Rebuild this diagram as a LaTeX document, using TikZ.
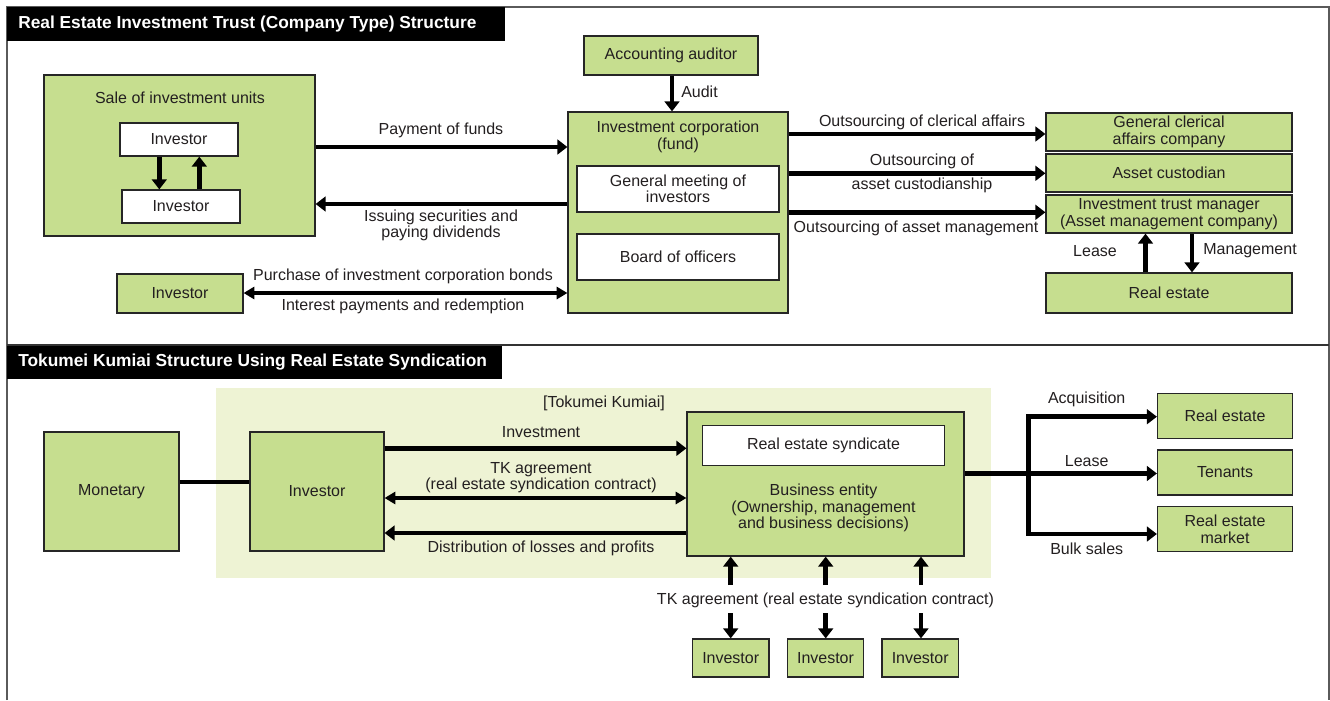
\documentclass[tikz,border=0pt]{standalone}
\usepackage{fontspec}
\setmainfont{Liberation Sans}
\usetikzlibrary{arrows.meta}
\definecolor{boxgreen}{HTML}{C6DE8F}
\definecolor{areagreen}{HTML}{EEF3D4}
\definecolor{txt}{HTML}{231F20}
\definecolor{framegray}{HTML}{5A5A5A}
\begin{document}
\begin{tikzpicture}[x=0.75pt,y=-0.75pt,
  font=\fontsize{12}{12.4}\selectfont, text=txt,
  sz/.style 2 args={minimum width={#1*0.75pt},minimum height={#2*0.75pt}},
  gbox/.style={draw=black!85, line width=0.9pt, fill=boxgreen, inner sep=0pt, align=center},
  wbox/.style={draw=black!85, line width=0.9pt, fill=white, inner sep=0pt, align=center},
  arr/.style={line width=3.4pt, -{Triangle[width=11pt,length=7.5pt]}},
  darr/.style={line width=3.2pt, {Triangle[width=9pt,length=8pt]}-{Triangle[width=9pt,length=8pt]}},
  thk/.style={line width=3.4pt},
  lbl/.style={inner sep=0pt, align=center},
  titlebar/.style={fill=black, draw=none},
  titletext/.style={text=white, font=\fontsize{13}{15}\selectfont\bfseries, inner sep=0pt, anchor=west},
  ]
\useasboundingbox (0,0) rectangle (1330,700);
\fill[white] (0,0) rectangle (1330,700);

% frame
\draw[framegray, line width=1.2pt] (7,700) -- (7,7) -- (1329,7) -- (1329,700);
\draw[black!80, line width=1pt] (7,345) -- (1329,345);

% ===== Top panel =====
\fill[titlebar] (7,7) rectangle (505,40.5);
\node[titletext] (t1) at (18,24) {Real Estate Investment Trust (Company Type) Structure};

\node[gbox, sz={271}{161}] (sale) at (179.5,155.5) {};
\node[lbl] (saleT) at (180,98) {Sale of investment units};
\node[wbox, sz={118}{33}] (inv1) at (179,139.5) {Investor};
\node[wbox, sz={118}{33}] (inv2) at (181,206.5) {Investor};
\draw[arr] (inv1.south -| 159.3,0) -- (inv2.north -| 159.3,0);
\draw[arr] (inv2.north -| 199.3,0) -- (inv1.south -| 199.3,0);

\node[gbox, sz={174}{39}] (auditor) at (671,55.5) {Accounting auditor};
\node[gbox, sz={220}{201}] (corp) at (678,212.5) {};
\node[lbl] (corpT) at (678,137) {Investment corporation\\(fund)};
\node[wbox, sz={202}{46}] (gm) at (678,189) {General meeting of\\investors};
\node[wbox, sz={202}{46}] (board) at (678,257) {Board of officers};
\draw[arr] (auditor.south -| 672,0) -- (corp.north -| 672,0);
\node[lbl, anchor=west] (auditL) at (681,92) {Audit};

\draw[arr] (sale.east |- 0,147) -- (corp.west |- 0,147);
\node[lbl] (payL) at (441,130) {Payment of funds};
\draw[arr] (corp.west |- 0,204) -- (sale.east |- 0,204);
\node[lbl] (issL) at (441,225.5) {Issuing securities and\\paying dividends};

\node[gbox, sz={126}{39}] (invB) at (180,293.5) {Investor};
\draw[darr] (invB.east |- 0,293) -- (corp.west |- 0,293);
\node[lbl] (bondL) at (403,276) {Purchase of investment corporation bonds};
\node[lbl] (intL) at (403,306) {Interest payments and redemption};

\node[gbox, sz={246}{38}] (clerical) at (1169,132) {General clerical\\affairs company};
\node[gbox, sz={246}{38}] (custodian) at (1169,173) {Asset custodian};
\node[gbox, sz={246}{38}] (manager) at (1169,214) {Investment trust manager\\(Asset management company)};
\node[gbox, sz={246}{40}] (realT) at (1169,293) {Real estate};

\draw[arr] (corp.east |- 0,134) -- (clerical.west |- 0,134);
\node[lbl] (clerL) at (922,122) {Outsourcing of clerical affairs};
\draw[arr] (corp.east |- 0,173.3) -- (custodian.west |- 0,173.3);
\node[lbl] (custL1) at (922,161) {Outsourcing of};
\node[lbl] (custL2) at (922,185) {asset custodianship};
\draw[arr] (corp.east |- 0,212.3) -- (manager.west |- 0,212.3);
\node[lbl] (mgmtL) at (916,228) {Outsourcing of asset management};

\draw[arr] (realT.north -| 1145.5,0) -- (manager.south -| 1145.5,0);
\node[lbl] (leaseL) at (1095,251) {Lease};
\draw[arr] (manager.south -| 1192,0) -- (realT.north -| 1192,0);
\node[lbl] (manL) at (1250,251) {Management};

% ===== Bottom panel =====
\fill[titlebar] (7,345.5) rectangle (501.5,379);
\node[titletext] (t2) at (18,362) {Tokumei Kumiai Structure Using Real Estate Syndication};

\fill[areagreen] (216,388) rectangle (991,578);
\node[lbl] (tkL) at (604,403) {[Tokumei Kumiai]};

\node[gbox, sz={135}{119}] (monetary) at (111.5,491.5) {Monetary};
\node[gbox, sz={134}{119}] (invL) at (317,491.5) {Investor};
\draw[thk] (monetary.east |- 0,482) -- (invL.west |- 0,482);

\node[gbox, sz={277}{144}] (biz) at (825.5,484) {};
\node[wbox, sz={242}{40}] (syn) at (823.5,445.3) {Real estate syndicate};
\node[lbl] (bizT) at (823.5,508) {Business entity\\(Ownership, management\\and business decisions)};

\draw[arr] (invL.east |- 0,448.3) -- (biz.west |- 0,448.3);
\node[lbl] (investL) at (541,432) {Investment};
\draw[darr] (invL.east |- 0,498) -- (biz.west |- 0,498);
\node[lbl] (tkaL) at (541,477.5) {TK agreement\\(real estate syndication contract)};
\draw[arr] (biz.west |- 0,533) -- (invL.east |- 0,533);
\node[lbl] (distL) at (541,548) {Distribution of losses and profits};

\node[gbox, sz={135}{45}] (reA) at (1225,415.8) {Real estate};
\node[gbox, sz={135}{45}] (ten) at (1225,472.5) {Tenants};
\node[gbox, sz={135}{45}] (mkt) at (1225,529.2) {Real estate\\market};
\coordinate (br) at (1028.3,473.5);
\draw[thk] (biz.east |- br) -- (br);
\draw[arr] ([yshift=-1.2pt]br) |- (reA.west |- 0,416.7);
\draw[arr] (br) -- (ten.west |- br);
\draw[arr] ([yshift=1.2pt]br) |- (mkt.west |- 0,534);
\node[lbl] (acqL) at (1086.7,399) {Acquisition};
\node[lbl] (lease2L) at (1086.7,461) {Lease};
\node[lbl] (bulkL) at (1086.7,548.3) {Bulk sales};

\node[gbox, sz={76.5}{38}] (i1) at (730.7,658) {Investor};
\node[gbox, sz={76.5}{38}] (i2) at (825.5,658) {Investor};
\node[gbox, sz={76.5}{38}] (i3) at (920.2,658) {Investor};
\foreach \n/\x in {i1/730.7,i2/825.7,i3/921}{
  \draw[arr] (\x,585) -- (biz.south -| \x,0);
  \draw[arr] (\x,613.3) -- (\n.north -| \x,0);
}
\node[lbl] (tkbL) at (825.5,600) {TK agreement (real estate syndication contract)};
\end{tikzpicture}
\end{document}
